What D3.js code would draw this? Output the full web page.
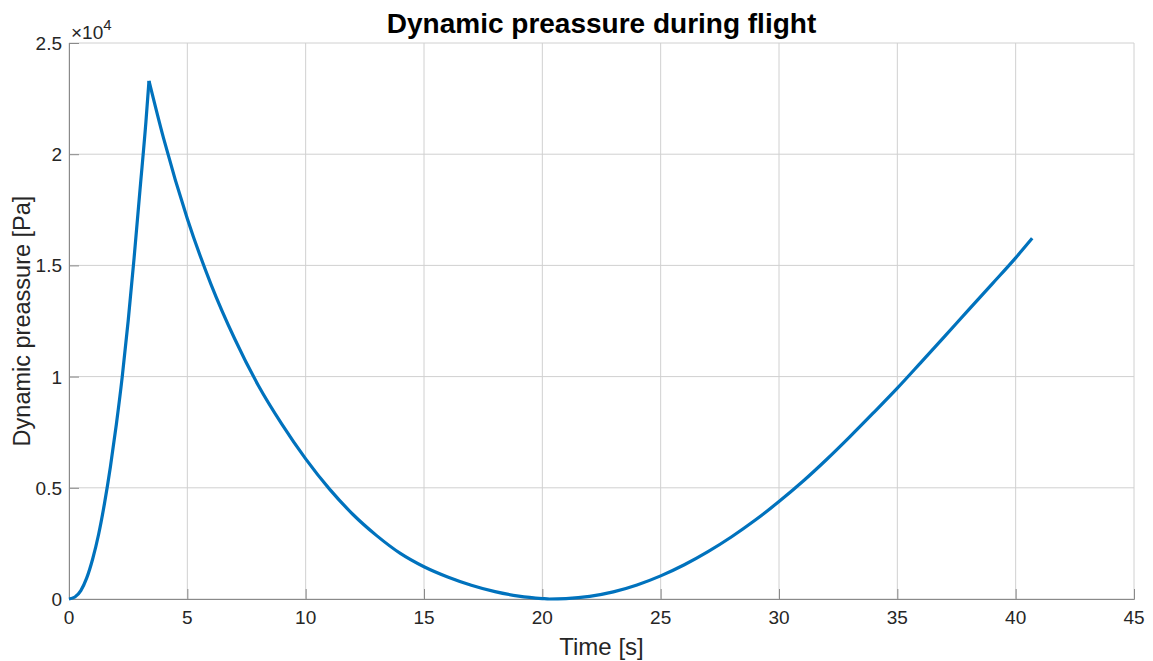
<!DOCTYPE html>
<meta charset="utf-8">
<style>
    body { margin: 0; background: #fff; }
    text { font-family: "Liberation Sans", Arial, Helvetica, sans-serif; }
</style>
<body>
<script src="https://d3js.org/d3.v7.min.js"></script>
<script>

    // time [s] and dynamic pressure [Pa]
    var timeRise = [0, 0.25, 0.5, 0.75, 1.0, 1.25, 1.5, 1.75, 2.0, 2.25, 2.5, 2.75, 3.0, 3.25, 3.38];
    var qRise = [0, 90, 380, 950, 1800, 2900, 4300, 5950, 7850, 10000, 12500, 15330, 18400, 21450, 23300];

    var timeFall = [3.38, 4, 5, 6, 7, 8, 9, 10, 11, 12, 13, 14, 15, 16, 17, 18, 19, 20, 20.3,
        21, 22, 23, 24, 25, 26, 27, 28, 29, 30, 31, 32, 33, 34, 35, 36, 37, 38, 39, 40, 40.7];
    var qFall = [23300, 20700, 17100, 14150, 11700, 9600, 7850, 6300, 4950, 3800, 2850, 2050, 1450, 990, 620, 330, 130, 20, 0,
        20, 120, 320, 630, 1040, 1540, 2130, 2800, 3550, 4380, 5280, 6260, 7300, 8380, 9480, 10640, 11810, 12990, 14160, 15340, 16220];

    var xTicks = [0, 5, 10, 15, 20, 25, 30, 35, 40, 45];
    var yTicks = [0, 5000, 10000, 15000, 20000, 25000];
    var yTickLabels = ["0", "0.5", "1", "1.5", "2", "2.5"];

    var width = 1153, height = 661;
    var margin = {left: 69, right: 19, top: 43, bottom: 62};

    var svg = d3.select("body").append("svg")
        .attr("width", width)
        .attr("height", height);

    var x = d3.scaleLinear().domain([0, 45]).range([margin.left, width - margin.right]);
    var y = d3.scaleLinear().domain([0, 25000]).range([height - margin.bottom, margin.top]);

    // grid
    svg.append("g").selectAll("line")
        .data(xTicks).enter().append("line")
        .attr("x1", function(d) { return x(d); })
        .attr("x2", function(d) { return x(d); })
        .attr("y1", y(0)).attr("y2", y(25000))
        .attr("stroke", "#d0d0d0").attr("stroke-width", 1);

    svg.append("g").selectAll("line")
        .data(yTicks).enter().append("line")
        .attr("y1", function(d) { return y(d); })
        .attr("y2", function(d) { return y(d); })
        .attr("x1", x(0)).attr("x2", x(45))
        .attr("stroke", "#d0d0d0").attr("stroke-width", 1);

    // axes, ticks pointing inward
    var xAxis = d3.axisTop(x).tickValues(xTicks).tickSize(10).tickFormat("");
    svg.append("g")
        .attr("transform", "translate(0," + y(0) + ")")
        .call(xAxis)
        .call(function(g) {
            g.select(".domain").attr("stroke", "#8a8a8a");
            g.selectAll(".tick line").attr("stroke", "#8a8a8a");
        });

    var yAxis = d3.axisRight(y).tickValues(yTicks).tickSize(10).tickFormat("");
    svg.append("g")
        .attr("transform", "translate(" + x(0) + ",0)")
        .call(yAxis)
        .call(function(g) {
            g.select(".domain").attr("stroke", "#8a8a8a");
            g.selectAll(".tick line").attr("stroke", "#8a8a8a");
        });

    // tick labels
    svg.append("g").selectAll("text")
        .data(xTicks).enter().append("text")
        .attr("x", function(d) { return x(d); })
        .attr("y", y(0) + 25)
        .attr("text-anchor", "middle")
        .attr("font-size", 19)
        .attr("fill", "#262626")
        .text(function(d) { return d; });

    svg.append("g").selectAll("text")
        .data(yTicks).enter().append("text")
        .attr("x", x(0) - 7)
        .attr("y", function(d) { return y(d) + 7; })
        .attr("text-anchor", "end")
        .attr("font-size", 19)
        .attr("fill", "#262626")
        .text(function(d, i) { return yTickLabels[i]; });

    // exponent
    var expo = svg.append("text")
        .attr("x", x(0) + 2)
        .attr("y", y(25000) - 4)
        .attr("font-size", 19)
        .attr("fill", "#262626");
    expo.append("tspan").text("\u00d710");
    expo.append("tspan").attr("dy", -9).attr("font-size", 15).text("4");

    // line, split at the peak so the tip stays sharp
    var line = d3.line()
        .x(function(d) { return x(d[0]); })
        .y(function(d) { return y(d[1]); })
        .curve(d3.curveMonotoneX);

    [[timeRise, qRise], [timeFall, qFall]].forEach(function(s) {
        svg.append("path")
            .datum(d3.zip(s[0], s[1]))
            .attr("d", line)
            .attr("fill", "none")
            .attr("stroke", "#0072bd")
            .attr("stroke-width", 3.2);
    });

    // title and labels
    svg.append("text")
        .attr("x", (x(0) + x(45)) / 2)
        .attr("y", 33)
        .attr("text-anchor", "middle")
        .attr("font-size", 28)
        .attr("font-weight", "bold")
        .attr("fill", "#000")
        .text("Dynamic preassure during flight");

    svg.append("text")
        .attr("x", (x(0) + x(45)) / 2)
        .attr("y", 655)
        .attr("text-anchor", "middle")
        .attr("font-size", 24)
        .attr("fill", "#262626")
        .text("Time [s]");

    svg.append("text")
        .attr("transform", "translate(30," + y(12500) + ") rotate(-90)")
        .attr("text-anchor", "middle")
        .attr("font-size", 23.5)
        .attr("fill", "#262626")
        .text("Dynamic preassure [Pa]");

</script>
